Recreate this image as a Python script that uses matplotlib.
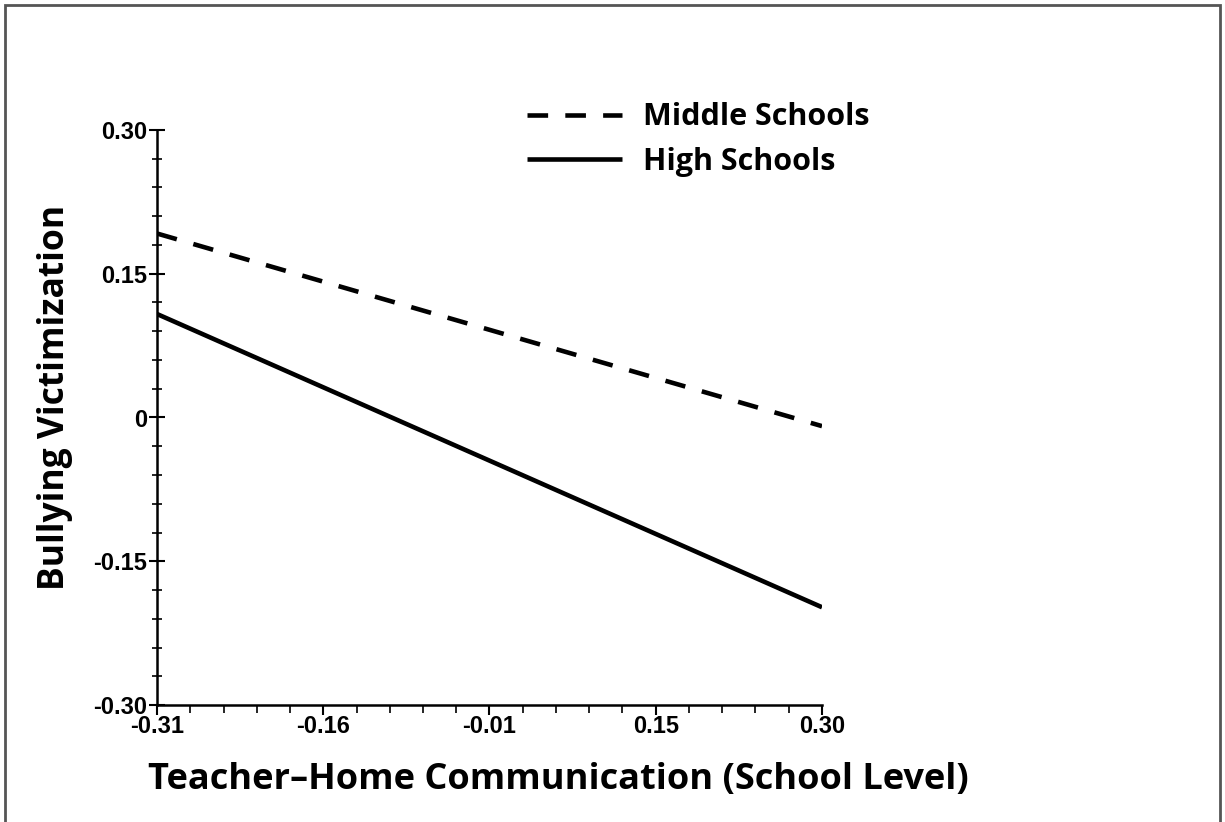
import matplotlib
matplotlib.use("Agg")
import matplotlib.pyplot as plt
from matplotlib.ticker import FixedLocator
from matplotlib.patches import Rectangle
import numpy as np

# Data
x_values = [-0.31, 0.30]
middle_schools = [0.192, -0.009]
high_schools = [0.108, -0.198]
x_tick_labels = ["-0.31", "-0.16", "-0.01", "0.15", "0.30"]
y_ticks = [-0.30, -0.15, 0.0, 0.15, 0.30]
y_tick_labels = ["-0.30", "-0.15", "0", "0.15", "0.30"]

W, H = 1225, 822
fig = plt.figure(figsize=(W / 100, H / 100), dpi=100)
ax = fig.add_axes([157 / W, (H - 705) / H, (822 - 157) / W, (705 - 130) / H])

l1, = ax.plot(x_values, middle_schools, color="black", lw=3.3, linestyle=(0, (4.5, 3.75)),
              label="Middle Schools", solid_capstyle="butt", dash_capstyle="butt")
l2, = ax.plot(x_values, high_schools, color="black", lw=3.3, label="High Schools",
              solid_capstyle="butt")

ax.set_xlim(-0.31, 0.30)
ax.set_ylim(-0.30, 0.30)

tickfont = dict(family="Liberation Sans", weight="bold", size=17)
x_ticks = np.linspace(-0.31, 0.30, 5)
ax.xaxis.set_major_locator(FixedLocator(x_ticks))
ax.set_xticklabels(x_tick_labels, fontdict=tickfont)
ax.xaxis.set_minor_locator(FixedLocator(np.linspace(-0.31, 0.30, 21)))
ax.yaxis.set_major_locator(FixedLocator(y_ticks))
ax.set_yticklabels(y_tick_labels, fontdict=tickfont)
ax.yaxis.set_minor_locator(FixedLocator(np.linspace(-0.30, 0.30, 21)))

for s in ["top", "right"]:
    ax.spines[s].set_visible(False)
for s in ["left", "bottom"]:
    ax.spines[s].set_linewidth(1.8)

ax.tick_params(axis="y", which="major", direction="inout", length=12, width=1.5, pad=1,
               labelsize=17)
ax.tick_params(axis="y", which="minor", direction="inout", length=7, width=1.2)
ax.tick_params(axis="x", which="major", direction="out", length=7, width=1.5, pad=0,
               labelsize=17)
ax.tick_params(axis="x", which="minor", direction="out", length=6, width=1.2)

ax.set_xlabel("Teacher\u2013Home Communication (School Level)", fontfamily="Open Sans",
              fontweight="bold", fontsize=26)
ax.xaxis.label.set_verticalalignment("center")
ax.xaxis.set_label_coords((558 - 157) / 665, -(780 - 705) / 575)
ax.set_ylabel("Bullying Victimization", fontfamily="Open Sans", fontweight="bold",
              fontsize=25.5)
ax.yaxis.set_label_coords(-(157 - 55) / 665, (705 - 397) / 575)
ax.yaxis.label.set_verticalalignment("center")

leg = ax.legend(handles=[l1, l2], loc="upper left", bbox_to_anchor=(512 / W, 1 - 87 / H),
                bbox_transform=fig.transFigure, frameon=False,
                prop=dict(family="Open Sans", weight="bold", size=22),
                handlelength=3.1, handletextpad=0.7, labelspacing=0.48, borderpad=0)

fig.patches.append(Rectangle((5 / W, -0.01), (1220 - 5) / W, 1 - 5 / H + 0.01,
                             transform=fig.transFigure, fill=False,
                             edgecolor="#555555", linewidth=2.0))

fig.savefig("out.png", dpi=100, facecolor="white")
